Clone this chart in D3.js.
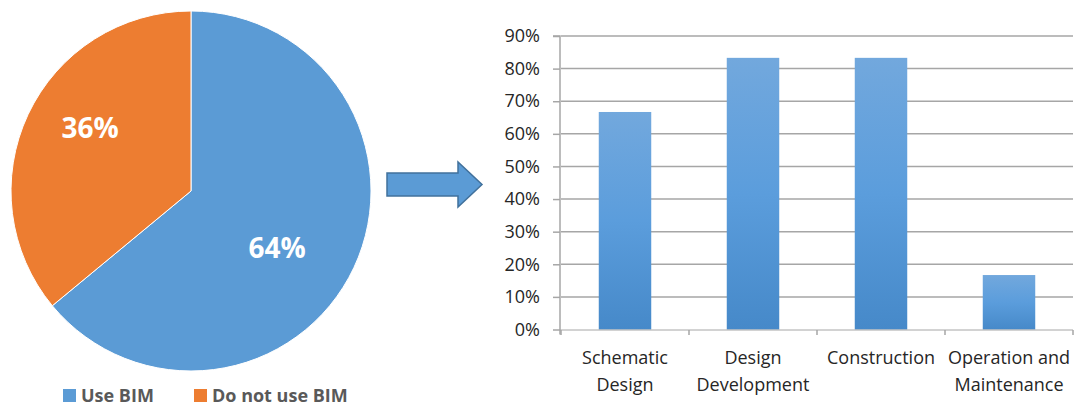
<!DOCTYPE html>
<html><head><meta charset="utf-8">
<script src="https://cdn.jsdelivr.net/npm/d3@7/dist/d3.min.js"></script>
<style>body{margin:0;background:#fff}svg{display:block}</style>
</head><body>
<svg id="c" width="1075" height="408"></svg>
<script>
const pieLabels = ["Use BIM", "Do not use BIM"];
const pieValues = [64, 36];
const pieColors = ["#5B9BD5", "#ED7D31"];

const categories = [["Schematic","Design"],["Design","Development"],["Construction"],["Operation and","Maintenance"]];
const barValues = [0.667, 0.833, 0.833, 0.167];
const yTicks = [0,0.1,0.2,0.3,0.4,0.5,0.6,0.7,0.8,0.9];

const svg = d3.select("#c");
const font = "'Open Sans', sans-serif";

// Pie
const cx = 191, cy = 191, r = 180;
const pie = d3.pie().sort(null).value(d => d)(pieValues);
const arc = d3.arc().innerRadius(0).outerRadius(r);
const pg = svg.append("g").attr("transform", `translate(${cx},${cy})`);
pg.selectAll("path").data(pie).join("path")
  .attr("d", arc).attr("fill", (d,i) => pieColors[i])
  .attr("stroke", "#fff").attr("stroke-width", 1);
const labelPos = [[86, 57], [-101, -63]];
pg.selectAll("text").data(pie).join("text")
  .attr("transform", (d,i) => `translate(${labelPos[i][0]},${labelPos[i][1]})`)
  .attr("text-anchor", "middle").attr("dy", "0.36em")
  .attr("fill", "#fff").attr("font-family", font).attr("font-weight", "bold").attr("font-size", 28)
  .text(d => d.value + "%");

// Legend
const legX = [63, 194];
const lg = svg.append("g");
pieLabels.forEach((l, i) => {
  lg.append("rect").attr("x", legX[i]).attr("y", 389).attr("width", 13).attr("height", 13).attr("fill", pieColors[i]);
  lg.append("text").attr("x", legX[i] + 18).attr("y", 402).attr("font-family", font).attr("font-weight", "bold")
    .attr("font-size", 18).attr("fill", "#595959").text(l);
});

// Arrow
svg.append("path")
  .attr("d", "M387,173 L458,173 L458,162 L482,184.5 L458,207 L458,196 L387,196 Z")
  .attr("fill", "#5B9BD5").attr("stroke", "#41719C").attr("stroke-width", 1.5);

// Bar chart
const x0 = 561, x1 = 1073, yTop = 36, yBot = 329.5;
const x = d3.scaleBand().domain(d3.range(categories.length)).range([x0, x1]).paddingInner(0.59).paddingOuter(0.295);
const y = d3.scaleLinear().domain([0, 0.9]).range([yBot, yTop]);

const defs = svg.append("defs");
const grad = defs.append("linearGradient").attr("id", "bg").attr("x1", 0).attr("y1", 0).attr("x2", 0).attr("y2", 1);
grad.append("stop").attr("offset", "0%").attr("stop-color", "#72A8DD");
grad.append("stop").attr("offset", "50%").attr("stop-color", "#5B9DDC");
grad.append("stop").attr("offset", "100%").attr("stop-color", "#4689C9");

const grid = svg.append("g");
yTicks.forEach(t => {
  if (t === 0) return;
  grid.append("line").attr("x1", x0).attr("x2", x1).attr("y1", y(t)).attr("y2", y(t))
    .attr("stroke", "#A6A6A6").attr("stroke-width", 1.5);
});

svg.append("g").selectAll("rect").data(barValues).join("rect")
  .attr("x", (d,i) => x(i)).attr("width", x.bandwidth())
  .attr("y", d => y(d)).attr("height", d => yBot - y(d))
  .attr("fill", "url(#bg)");

// Y axis
const yAxis = svg.append("g").attr("transform", `translate(${x0 - 1},0)`)
  .call(d3.axisLeft(y).tickValues(yTicks).tickFormat(d3.format(".0%")).tickSize(7).tickPadding(13));
yAxis.select(".domain").attr("stroke", "#A6A6A6").attr("stroke-width", 1.5).attr("d", `M-7,${yTop}H0V${yBot + 5}`);
yAxis.selectAll(".tick line").attr("stroke", "#A6A6A6").attr("stroke-width", 1.5);
yAxis.selectAll("text").attr("font-family", font).attr("font-size", 18).attr("fill", "#262626");

// X axis
const xg = svg.append("g").attr("transform", `translate(0,${yBot + 0.5})`);
xg.append("line").attr("x1", x0 - 1).attr("x2", x1).attr("stroke", "#A6A6A6").attr("stroke-width", 1);
const step = x.step();
d3.range(categories.length + 1).forEach(i => {
  const xx = x0 + i * step;
  xg.append("line").attr("x1", xx).attr("x2", xx).attr("y1", 0).attr("y2", 5).attr("stroke", "#A6A6A6").attr("stroke-width", 1.5);
});
categories.forEach((lines, i) => {
  const t = xg.append("text").attr("text-anchor", "middle").attr("font-family", font).attr("font-size", 18)
    .attr("fill", "#262626");
  lines.forEach((l, j) => {
    t.append("tspan").attr("x", x(i) + x.bandwidth() / 2).attr("y", 34 + j * 27).text(l);
  });
});
</script>
</body></html>
